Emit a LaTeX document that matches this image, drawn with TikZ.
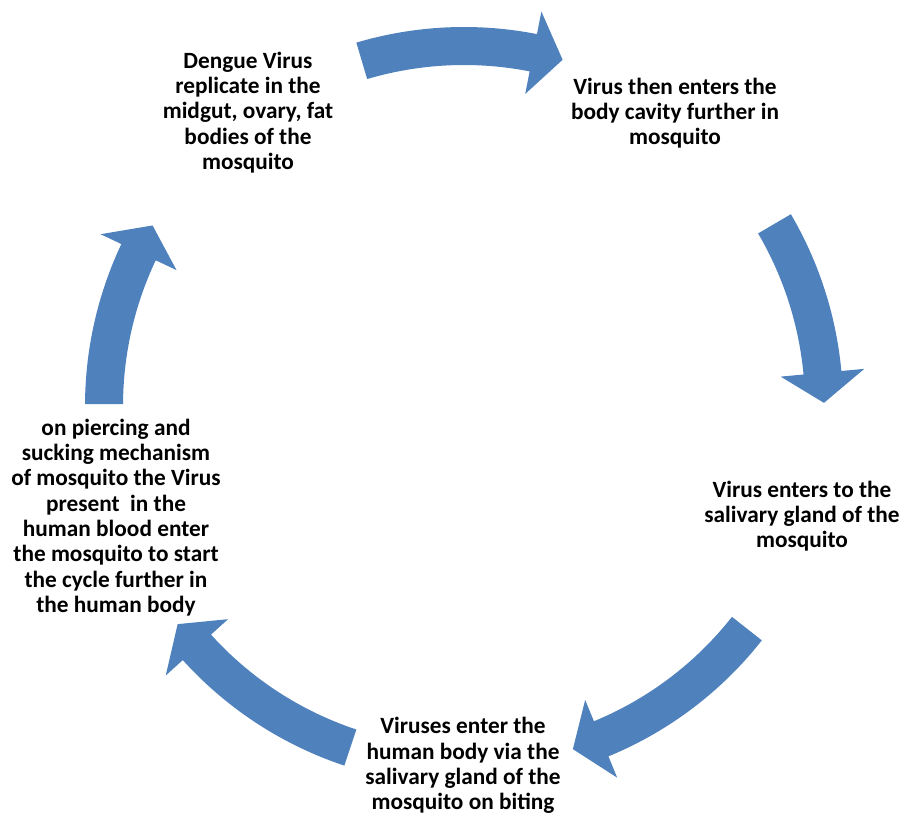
\documentclass[tikz,border=0pt]{standalone}
\usepackage{fontspec}
\setmainfont{Carlito}
\definecolor{arrowblue}{RGB}{79,129,189}
\newcommand\cycarrow[2]{%
  \pgfmathsetmacro\arrbase{#2+4.8}%
  \fill[arrowblue] (#1:379pt) arc[start angle=#1,end angle=\arrbase,radius=379pt]
    -- (\arrbase:402pt) -- (#2:360pt) -- (\arrbase:318pt) -- (\arrbase:341pt)
    arc[start angle=\arrbase,end angle=#1,radius=341pt] -- cycle;}
\begin{document}
\begin{tikzpicture}[x=1pt,y=1pt,
  lbl/.style={font=\fontsize{23.3}{25.3}\selectfont\bfseries, align=center, inner sep=0pt, text=black}]
\useasboundingbox (0,0) rectangle (903,815);
\begin{scope}[shift={(464,409)}]
  \cycarrow{106.5}{74.1}
  \cycarrow{30.4}{0.5}
  \cycarrow{-38.2}{-72.4}
  \cycarrow{-108.4}{-142.7}
  \cycarrow{179.7}{149.9}
\end{scope}
\node[lbl] (n1) at (248,702.5) {Dengue Virus\\replicate in the\\midgut, ovary, fat\\bodies of the\\mosquito};
\node[lbl] (n2) at (675,702) {Virus then enters the\\body cavity further in\\mosquito};
\node[lbl] (n3) at (802,299) {Virus enters to the\\salivary gland of the\\mosquito};
\node[lbl] (n4) at (463,49.5) {Viruses enter the\\human body via the\\salivary gland of the\\mosquito on biting};
\node[lbl] (n5) at (116,297.5) {on piercing and\\sucking mechanism\\of mosquito the Virus\\present~ in the\\human blood enter\\the mosquito to start\\the cycle further in\\the human body};
\end{tikzpicture}
\end{document}
